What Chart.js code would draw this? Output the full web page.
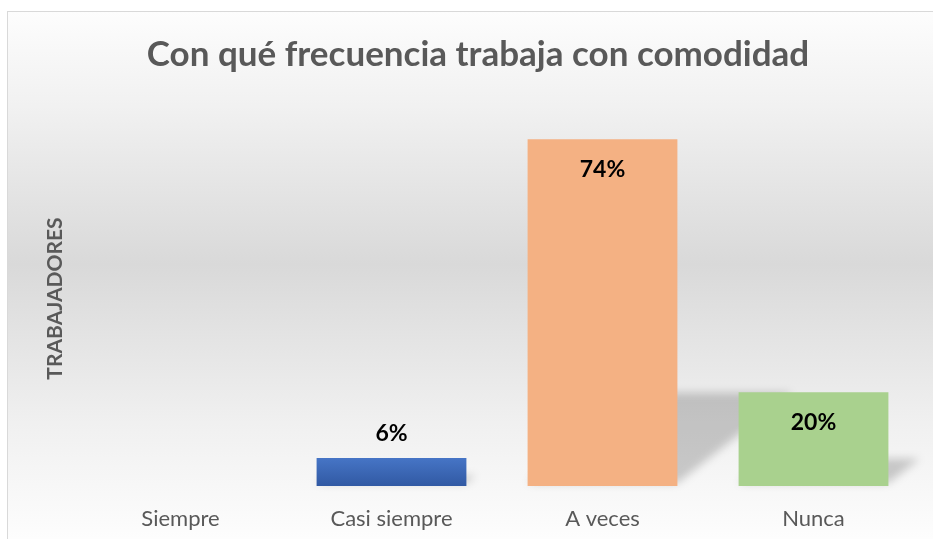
<!DOCTYPE html>
<html>
<head>
<meta charset="utf-8">
<script src="https://cdn.jsdelivr.net/npm/chart.js@4"></script>
<style>
  html, body { margin: 0; padding: 0; background: #fff; }
  #wrap { width: 933px; height: 539px; }
</style>
</head>
<body>
<div id="wrap"><canvas id="chart"></canvas></div>
<script>
// datos
const categorias = ['Siempre', 'Casi siempre', 'A veces', 'Nunca'];
const porcentajes = [0, 6, 74, 20];
const coloresBarra = ['#4472c4', '#4472c4', '#f4b183', '#a9d18e'];
const tituloGrafico = 'Con qué frecuencia trabaja con comodidad';
const tituloEjeY = 'TRABAJADORES';

// fondo degradado con borde (estilo Excel)
const fondoPlugin = {
  id: 'fondo',
  beforeDraw(chart) {
    const { ctx, width, height } = chart;
    ctx.save();
    ctx.fillStyle = '#ffffff';
    ctx.fillRect(0, 0, width, height);
    const g = ctx.createLinearGradient(0, 11, 0, height);
    g.addColorStop(0, '#fdfdfd');
    g.addColorStop(0.18, '#f1f1f1');
    g.addColorStop(0.48, '#d9d9d9');
    g.addColorStop(0.78, '#f0f0f0');
    g.addColorStop(1, '#fdfdfd');
    ctx.fillStyle = g;
    ctx.fillRect(7.5, 11.5, width, height);
    ctx.strokeStyle = '#d9d9d9';
    ctx.lineWidth = 1;
    ctx.strokeRect(7.5, 11.5, width + 10, height + 10);
    ctx.restore();
  }
};

// sombra en perspectiva detrás de las barras
const sombraPlugin = {
  id: 'sombra',
  beforeDatasetsDraw(chart) {
    const { ctx } = chart;
    const meta = chart.getDatasetMeta(0);
    ctx.save();
    ctx.filter = 'blur(4px)';
    ctx.fillStyle = 'rgba(0,0,0,0.19)';
    meta.data.forEach(bar => {
      const h = bar.base - bar.y;
      if (h <= 0) return;
      const L = bar.x - bar.width / 2;
      const R = bar.x + bar.width / 2;
      const s = h * 0.26;
      const sk = h * 0.33;
      const B = bar.base - 3;
      ctx.beginPath();
      ctx.moveTo(L, B);
      ctx.lineTo(R, B);
      ctx.lineTo(R + sk, B - s);
      ctx.lineTo(L + sk, B - s);
      ctx.closePath();
      ctx.fill();
    });
    ctx.restore();
  }
};

// etiquetas de datos y título del eje vertical
const etiquetasPlugin = {
  id: 'etiquetas',
  afterDatasetsDraw(chart) {
    const { ctx, chartArea } = chart;
    const meta = chart.getDatasetMeta(0);
    ctx.save();
    ctx.font = 'bold 23px Lato';
    ctx.fillStyle = '#000000';
    ctx.textAlign = 'center';
    ctx.textBaseline = 'middle';
    meta.data.forEach((bar, i) => {
      const v = porcentajes[i];
      if (!v) return;
      const h = bar.base - bar.y;
      const y = h > 60 ? bar.y + 30 : bar.y - 24;
      ctx.fillText(v + '%', bar.x, y);
    });
    // título del eje Y (girado)
    ctx.translate(chartArea.left - 20, (chartArea.top + chartArea.bottom) / 2);
    ctx.rotate(-Math.PI / 2);
    ctx.font = 'bold 21px Lato';
    ctx.fillStyle = '#595959';
    ctx.fillText(tituloEjeY, 0, 0);
    ctx.restore();
  }
};

const ctx = document.getElementById('chart');

new Chart(ctx, {
  type: 'bar',
  data: {
    labels: categorias,
    datasets: [{
      data: porcentajes,
      backgroundColor: function(context) {
        const i = context.dataIndex;
        const chart = context.chart;
        if (i === 1 && chart.chartArea && chart.scales.y) {
          const y = chart.scales.y;
          const top = y.getPixelForValue(porcentajes[i]);
          const base = y.getPixelForValue(0);
          const g = chart.ctx.createLinearGradient(0, top, 0, base);
          g.addColorStop(0, '#4675c6');
          g.addColorStop(1, '#3159a3');
          return g;
        }
        return coloresBarra[i];
      },
      borderWidth: 0,
      categoryPercentage: 1,
      barPercentage: 0.71
    }]
  },
  options: {
    responsive: true,
    maintainAspectRatio: false,
    animation: false,
    layout: {
      padding: { left: 37, right: 14, top: 20, bottom: 8 }
    },
    plugins: {
      legend: { display: false },
      tooltip: { enabled: false },
      title: {
        display: true,
        text: tituloGrafico,
        color: '#595959',
        font: { family: 'Lato', size: 35, weight: 'bold' },
        padding: { top: 14, bottom: 35 }
      }
    },
    scales: {
      x: {
        grid: { display: false },
        border: { display: false },
        ticks: {
          color: '#595959',
          font: { family: 'Lato', size: 22 },
          padding: 12
        },
        afterFit(scale) { scale.height = 45; }
      },
      y: {
        min: 0,
        max: 80,
        grid: { display: false },
        border: { display: false },
        ticks: { display: false },
        title: { display: false },
        afterFit(scale) { scale.width = 38; }
      }
    }
  },
  plugins: [fondoPlugin, sombraPlugin, etiquetasPlugin]
});
</script>
</body>
</html>
